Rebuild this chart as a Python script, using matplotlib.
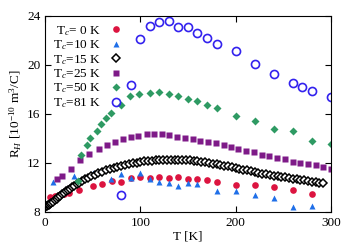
import numpy as np
import matplotlib.pyplot as plt

plt.rcParams['font.family'] = ['Liberation Serif', 'DejaVu Serif']
plt.rcParams['mathtext.fontset'] = 'custom'
plt.rcParams['mathtext.rm'] = 'Liberation Serif'
plt.rcParams['mathtext.it'] = 'Liberation Serif:italic'

# Tc = 0 K
t0 = [5, 10, 15, 20, 25, 36, 50, 60, 70, 80, 90, 100, 110, 120, 130, 140, 150,
      160, 170, 180, 200, 220, 240, 260, 280]
r0 = [9.25, 9.3, 9.38, 9.45, 9.55, 9.8, 10.15, 10.26, 10.5, 10.45, 10.78, 10.82,
      10.75, 10.88, 10.75, 10.88, 10.67, 10.67, 10.6, 10.42, 10.2, 10.2, 10.02,
      9.8, 9.47]

# Tc = 10 K
t10 = [8, 30, 50, 69, 80, 90, 100, 110, 120, 130, 140, 150, 160, 180, 200, 220,
       240, 260, 280]
r10 = [10.47, 10.9, 11.16, 10.65, 11.08, 10.75, 11.15, 10.7, 10.42, 10.34, 10.12,
       10.34, 10.26, 9.74, 9.74, 9.39, 9.12, 8.38, 8.49]

# Tc = 15 K
t15 = [0, 1, 2, 3, 4, 5, 6, 8, 10, 12, 14, 16, 18, 20, 22, 24, 26, 28, 30, 33,
       36, 39, 42, 45, 48, 52, 56, 60, 64, 68, 72, 76, 80, 84, 88, 92, 96, 100,
       104, 108, 112, 116, 120, 124, 128, 132, 136, 140, 144, 148, 152, 156, 160,
       164, 168, 172, 176, 180, 184, 188, 192, 196, 200, 204, 208, 212, 216, 220,
       224, 228, 232, 236, 240, 244, 248, 252, 256, 260, 264, 268, 272, 276, 280,
       284, 288, 292]
r15 = [8.4, 8.45, 8.5, 8.55, 8.6, 8.65, 8.7, 8.82, 8.95, 9.08, 9.2, 9.32, 9.45,
       9.57, 9.68, 9.8, 9.9, 10.0, 10.1, 10.25, 10.4, 10.52, 10.65, 10.78, 10.9,
       11.03, 11.16, 11.28, 11.4, 11.52, 11.62, 11.7, 11.78, 11.85, 11.92, 11.98,
       12.03, 12.08, 12.12, 12.16, 12.19, 12.22, 12.24, 12.26, 12.27, 12.27, 12.27,
       12.26, 12.25, 12.23, 12.2, 12.17, 12.13, 12.09, 12.05, 12.0, 11.95, 11.9,
       11.84, 11.78, 11.72, 11.65, 11.58, 11.52, 11.45, 11.39, 11.32, 11.26, 11.19,
       11.13, 11.07, 11.01, 10.96, 10.91, 10.86, 10.81, 10.76, 10.71, 10.66, 10.62,
       10.57, 10.52, 10.47, 10.43, 10.39, 10.35]

# Tc = 25 K
t25 = [13, 18, 27, 37, 46.5, 56.5, 65, 73.5, 82, 90, 98, 106.5, 114.5, 122.5,
       130.5, 139, 147, 155, 163, 171, 179.5, 188, 195, 203, 211, 219.5, 227.5,
       235.5, 243.5, 252, 260, 268, 276, 284, 292, 300]
r25 = [10.65, 10.9, 11.5, 12.22, 12.72, 13.12, 13.5, 13.74, 13.93, 14.15, 14.23,
       14.36, 14.37, 14.35, 14.28, 14.12, 14.04, 13.96, 13.82, 13.71, 13.6, 13.44,
       13.3, 13.17, 12.98, 12.87, 12.65, 12.55, 12.43, 12.3, 12.1, 12.03, 11.92,
       11.84, 11.7, 11.5]

# Tc = 50 K
t50 = [35, 38, 44, 47, 54.5, 59, 64, 69, 79.5, 89.5, 99, 110, 120, 130, 140, 150,
       160, 170, 180, 200, 220, 240, 260, 280, 300]
r50 = [10.5, 12.65, 13.5, 14.0, 14.6, 15.15, 15.65, 16.05, 16.7, 17.45, 17.6,
       17.7, 17.78, 17.6, 17.5, 17.2, 17.05, 16.72, 16.45, 15.8, 15.4, 14.8, 14.6,
       13.8, 13.55]

# Tc = 81 K
t81 = [80, 90, 100, 110, 120, 130, 140, 150, 160, 170, 180, 200, 220, 240, 260,
       270, 280, 300]
r81 = [9.4, 18.4, 22.1, 23.2, 23.5, 23.55, 23.1, 23.1, 22.6, 22.2, 21.7, 21.1,
       20.1, 19.3, 18.5, 18.2, 17.9, 17.4]

fig = plt.figure(figsize=(3.55, 2.49), dpi=100)
ax = fig.add_axes([0.127, 0.149, 0.805, 0.787])

ax.plot(t0, r0, 'o', color='#dc1440', ms=4.8, mec='none', label=r'T$_c$= 0 K')
ax.plot(t10, r10, '^', color='#1f6fe8', ms=4.8, mec='none', label=r'T$_c$=10 K')
ax.plot(t15, r15, 'D', mfc='white', mec='black', mew=1.1, ms=4.0,
        label=r'T$_c$=15 K')
ax.plot(t25, r25, 's', color='#7e1a88', ms=4.6, mec='none', label=r'T$_c$=25 K')
ax.plot(t50, r50, 'D', color='#2e9a63', ms=3.8, mec='none', label=r'T$_c$=50 K')
ax.plot(t81, r81, 'o', mfc='none', mec='#3322ee', mew=1.2, ms=5.8,
        label=r'T$_c$=81 K')

ax.set_xlim(0, 300)
ax.set_ylim(8, 24)
ax.set_xticks([0, 100, 200, 300])
ax.set_yticks([8, 12, 16, 20, 24])
ax.tick_params(direction='in', top=True, right=True, labelsize=9.5, length=4)
ax.set_xlabel('T [K]', fontsize=9.5, labelpad=1)
ax.set_ylabel(r'R$_H$ [10$^{-10}$ m$^3$/C]', fontsize=9.5, labelpad=2)

ax.legend(loc='upper left', frameon=False, markerfirst=False, fontsize=9.5,
          handlelength=0.8, handletextpad=0.7, labelspacing=0.05,
          borderaxespad=0.2, bbox_to_anchor=(0.0, 1.0))

fig.savefig('out.png', dpi=100)
